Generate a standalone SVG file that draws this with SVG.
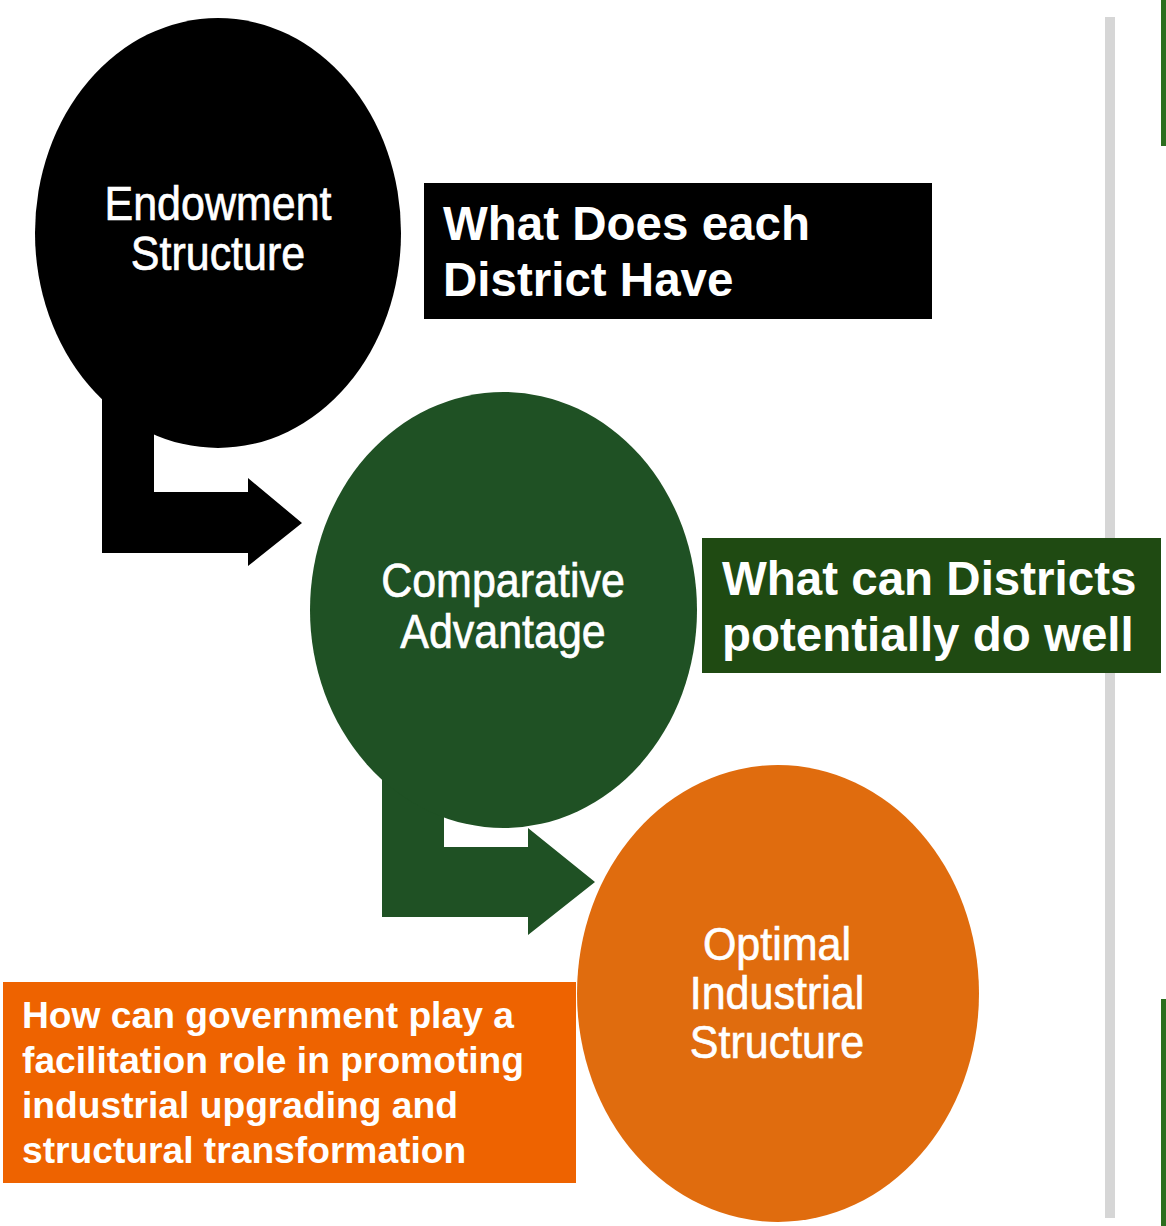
<svg xmlns="http://www.w3.org/2000/svg" width="1166" height="1226" viewBox="0 0 1166 1226">
  <style>
    .lbl { font-family: "Liberation Sans", Arial, sans-serif; font-weight: bold; fill: #ffffff; }
    .cap { font-family: "Liberation Sans", Arial, sans-serif; font-size: 43px; fill: #ffffff; stroke: #ffffff; stroke-width: 0.6px; text-anchor: middle; }
  </style>
  <rect width="1166" height="1226" fill="#ffffff"/>

  <!-- divider and edge bars -->
  <rect x="1105" y="17" width="10" height="1201" fill="#d6d6d6"/>
  <rect x="1161" y="0" width="5" height="146" fill="#2b6e1e"/>
  <rect x="1161" y="999" width="5" height="227" fill="#2b6e1e"/>

  <!-- bent block arrows between stages -->
  <g id="connectors">
    <polygon points="102,380 154,380 154,492 248,492 248,478 302,523 248,566 248,553 102,553" fill="#000000"/>
    <polygon points="382,760 444,760 444,847 528,847 528,828 595,882 528,935 528,917 382,917" fill="#1f5124"/>
  </g>

  <g id="endowment">
    <ellipse cx="218" cy="233" rx="183" ry="215" fill="#000000"/>
    <text class="cap" transform="translate(218,220) scale(1,1.1)">Endowment</text>
    <text class="cap" transform="translate(218,270) scale(1,1.1)">Structure</text>
  </g>

  <g id="comparative">
    <ellipse cx="503.5" cy="610" rx="193.5" ry="218" fill="#1f5124"/>
    <text class="cap" transform="translate(503,597) scale(1,1.12)">Comparative</text>
    <text class="cap" transform="translate(503,648) scale(1,1.12)">Advantage</text>
  </g>

  <g id="optimal">
    <ellipse cx="778" cy="993.5" rx="201" ry="228.5" fill="#e06c0e"/>
    <text class="cap" transform="translate(777,960) scale(1,1.08)">Optimal</text>
    <text class="cap" transform="translate(777,1009) scale(1,1.08)">Industrial</text>
    <text class="cap" transform="translate(777,1058) scale(1,1.08)">Structure</text>
  </g>

  <g id="label-have">
    <rect x="424" y="183" width="508" height="136" fill="#000000"/>
    <text class="lbl" font-size="47.5" x="443" y="240">What Does each</text>
    <text class="lbl" font-size="47.5" x="443" y="296">District Have</text>
  </g>

  <g id="label-do-well">
    <rect x="702" y="538" width="459" height="135" fill="#1f4a12"/>
    <text class="lbl" font-size="47.5" x="722" y="595">What can Districts</text>
    <text class="lbl" font-size="47.5" x="722" y="651">potentially do well</text>
  </g>

  <g id="label-government">
    <rect x="3" y="982" width="573" height="201" fill="#ee6300"/>
    <text class="lbl" font-size="37.2" x="22" y="1028">How can government play a</text>
    <text class="lbl" font-size="37.2" x="22" y="1073">facilitation role in promoting</text>
    <text class="lbl" font-size="37.2" x="22" y="1118">industrial upgrading and</text>
    <text class="lbl" font-size="37.2" x="22" y="1163">structural transformation</text>
  </g>
</svg>
